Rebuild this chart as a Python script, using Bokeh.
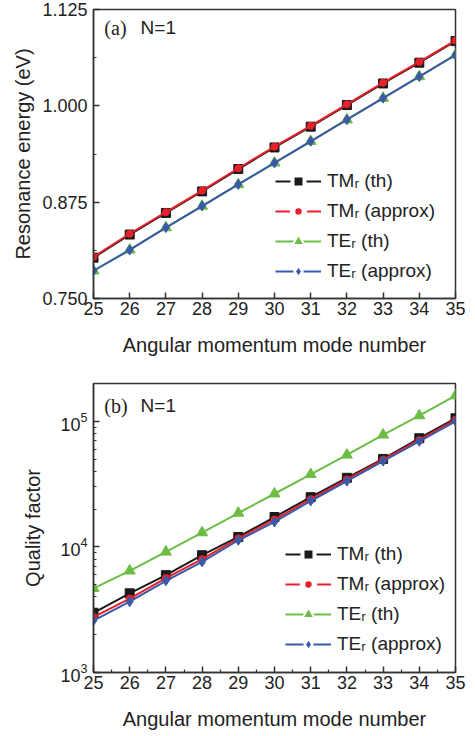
from bokeh.plotting import figure
from bokeh.layouts import column
from bokeh.models import Legend, LegendItem, Label, FixedTicker, NumeralTickFormatter, LogTicker
from bokeh.embed import file_html
from bokeh.resources import INLINE

# ---------------- data ----------------
mode_number = [25, 26, 27, 28, 29, 30, 31, 32, 33, 34, 35]

# (a) resonance energy (eV)
energy_tm_th = [0.803, 0.833, 0.861, 0.889, 0.918, 0.946, 0.973, 1.001, 1.029, 1.056, 1.084]
energy_tm_approx = [0.804, 0.834, 0.862, 0.890, 0.919, 0.947, 0.974, 1.002, 1.030, 1.057, 1.085]
energy_te_th = [0.786, 0.813, 0.842, 0.870, 0.898, 0.926, 0.954, 0.982, 1.010, 1.038, 1.066]
energy_te_approx = [0.786, 0.813, 0.842, 0.870, 0.898, 0.926, 0.954, 0.982, 1.010, 1.038, 1.066]

# (b) quality factor
q_tm_th = [2990, 4270, 5960, 8590, 12000, 17300, 24900, 35500, 50200, 73300, 105700]
q_tm_approx = [2760, 3880, 5650, 7990, 11700, 16500, 24000, 34500, 49500, 71000, 103000]
q_te_th = [4680, 6450, 9120, 13000, 18600, 26500, 37800, 54000, 78000, 111000, 160000]
q_te_approx = [2590, 3660, 5370, 7600, 11300, 15800, 23200, 33400, 48200, 69300, 100000]

energy_ticks = [0.750, 0.875, 1.000, 1.125]
energy_minor = [0.8125, 0.9375, 1.0625]
x_ticks = list(range(25, 36))
x_minor = [25.5 + i for i in range(10)]

series_labels = ["TM\u1d63 (th)", "TM\u1d63 (approx)", "TE\u1d63 (th)", "TE\u1d63 (approx)"]

NAN = float("nan")

BLACK = "#1a1a1a"
RED = "#e8202a"
GREEN = "#6cbd45"
BLUE = "#3a5aa8"
FONT = "Liberation Sans"
TICK_FS = "18px"
TITLE_FS = "20px"
LEG_FS = "19px"

# colour, marker, plot size, legend white-gap width
SPECS = [
    (BLACK, "square", 9, 4.0),
    (RED, "circle", 7, 5.5),
    (GREEN, "triangle", 11, 2.0),
    (BLUE, "diamond", 10, 2.5),
]


def style(p):
    p.xgrid.visible = False
    p.ygrid.visible = False
    p.outline_line_color = "#333333"
    p.outline_line_width = 1.5
    p.background_fill_color = "white"
    p.border_fill_color = "white"
    for ax in (p.xaxis[0], p.yaxis[0]):
        ax.axis_line_color = "#333333"
        ax.axis_line_width = 1.5
        ax.major_tick_line_color = "#333333"
        ax.major_tick_line_width = 1.5
        ax.minor_tick_line_color = "#333333"
        ax.minor_tick_line_width = 1.2
        ax.major_tick_in = 6
        ax.major_tick_out = 0
        ax.minor_tick_in = 3
        ax.minor_tick_out = 0
        ax.major_label_text_font = FONT
        ax.major_label_text_font_size = TICK_FS
        ax.major_label_text_color = "#222222"
        ax.axis_label_text_font = FONT
        ax.axis_label_text_font_size = TITLE_FS
        ax.axis_label_text_font_style = "normal"
        ax.axis_label_text_color = "#222222"
    p.xaxis[0].axis_label = "Angular momentum mode number"
    p.xaxis[0].major_label_standoff = 3
    p.xaxis[0].axis_label_standoff = 16


def add_series(p, ys):
    items = []
    for y, label, (c, m, s, gap) in zip(ys, series_labels, SPECS):
        p.line(mode_number, y, line_color=c, line_width=2)
        p.scatter(mode_number, y, marker=m, size=s, fill_color=c, line_color=c)
        # legend-only renderers (one undefined point): marker with white gap
        ll = p.line(x=[NAN], y=[NAN], line_color=c, line_width=2)
        lm = p.scatter(x=[NAN], y=[NAN], marker=m, size=s, fill_color=c,
                       line_color="white", line_width=gap)
        items.append(LegendItem(label=label, renderers=[ll, lm]))
    return items


def make_legend(items, loc):
    return Legend(items=items, location=loc, border_line_color=None,
                  background_fill_alpha=0, padding=0, margin=0, spacing=0,
                  label_height=30, glyph_height=30, glyph_width=46,
                  label_standoff=6, label_text_font=FONT,
                  label_text_font_size=LEG_FS, label_text_color="#222222")


# ---------------- panel (a) ----------------
p1 = figure(width=475, height=368, x_range=(25, 35), y_range=(0.75, 1.125),
            output_backend="svg", toolbar_location=None,
            min_border_left=93, min_border_right=20, min_border_top=9, min_border_bottom=70)
style(p1)
p1.xaxis[0].ticker = FixedTicker(ticks=x_ticks)
p1.xaxis[0].minor_tick_line_color = None
p1.yaxis[0].ticker = FixedTicker(ticks=energy_ticks, minor_ticks=energy_minor)
p1.yaxis[0].formatter = NumeralTickFormatter(format="0.000")
p1.yaxis[0].axis_label = "Resonance energy (eV)"
p1.yaxis[0].major_label_standoff = 6
p1.yaxis[0].axis_label_standoff = 5

items1 = add_series(p1, [energy_tm_th, energy_tm_approx, energy_te_th, energy_te_approx])
p1.add_layout(make_legend(items1, (182, 12)), "center")
p1.add_layout(Label(x=25.30, y=1.101, text="(a)", text_font="Liberation Serif",
                    text_font_size="20px", text_baseline="middle", text_color="#222222"))
p1.add_layout(Label(x=26.30, y=1.101, text="N=1", text_font=FONT,
                    text_font_size="19px", text_baseline="middle", text_color="#222222"))

# ---------------- panel (b) ----------------
p2 = figure(width=475, height=368, x_range=(25, 35), y_range=(1000, 200000),
            y_axis_type="log", output_backend="svg", toolbar_location=None,
            min_border_left=93, min_border_right=20, min_border_top=15, min_border_bottom=64)
style(p2)
p2.xaxis[0].ticker = FixedTicker(ticks=x_ticks, minor_ticks=x_minor)
p2.yaxis[0].ticker = LogTicker(num_minor_ticks=10)
p2.yaxis[0].axis_label = "Quality factor"
p2.yaxis[0].major_label_standoff = 6
p2.yaxis[0].axis_label_standoff = 13

items2 = add_series(p2, [q_tm_th, q_tm_approx, q_te_th, q_te_approx])
p2.add_layout(make_legend(items2, (192, 13)), "center")
p2.add_layout(Label(x=25.30, y=133000, text="(b)", text_font="Liberation Serif",
                    text_font_size="20px", text_baseline="middle", text_color="#222222"))
p2.add_layout(Label(x=26.30, y=133000, text="N=1", text_font=FONT,
                    text_font_size="19px", text_baseline="middle", text_color="#222222"))

layout = column(p1, p2, spacing=0)
open("out.html", "w").write(file_html(layout, INLINE))
